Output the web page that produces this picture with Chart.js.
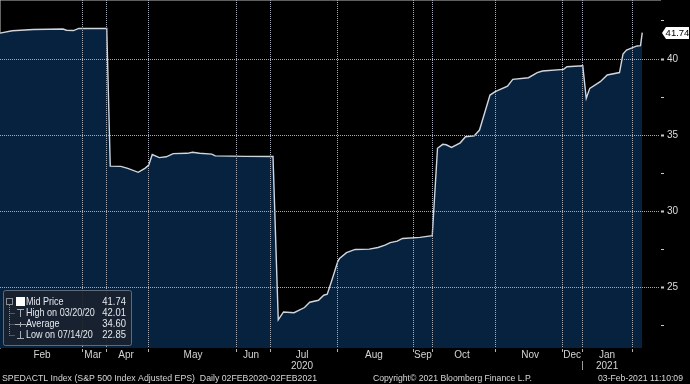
<!DOCTYPE html>
<html><head><meta charset="utf-8">
<script src="https://cdn.jsdelivr.net/npm/chart.js@4/dist/chart.umd.min.js"></script>
<style>html,body{margin:0;padding:0;background:#000;overflow:hidden}#wrap{width:690px;height:384px}</style>
</head><body><div id="wrap"><canvas id="c" width="690" height="384"></canvas></div>
<script>
// Days since 2020-02-01
const days = [0,7,19,36,38,42,45,61,63,69,73,79,83,85,87,91,95,99,107,110,114,121,123,140,156,159,162,168,174,177,182,185,187,190,193,194,198,203,211,216,220,223,227,230,240,247,250,253,255,258,263,266,271,274,280,283,290,293,302,307,310,322,324,333,335,337,343,347,354,356,358,364,366,367];
const values = [41.70,41.86,41.94,41.97,41.89,41.87,42.01,42.01,32.96,32.94,32.81,32.55,32.83,33.03,33.72,33.52,33.57,33.78,33.80,33.87,33.80,33.75,33.63,33.60,33.59,22.85,23.37,23.32,23.66,24.01,24.14,24.47,24.54,25.59,26.68,26.88,27.27,27.48,27.50,27.61,27.76,27.93,28.03,28.20,28.27,28.38,34.13,34.39,34.36,34.19,34.49,34.89,34.95,35.33,37.63,37.85,38.22,38.66,38.77,39.10,39.21,39.32,39.49,39.55,37.41,38.07,38.51,38.95,39.11,40.33,40.59,40.86,40.88,41.74];
const gridDays = [46.9,60.6,85.1,134.9,154.3,192.6,236,247.4,282.9,321.7,332.6,361.7];
const monthTickDays = [24,53.1,72,110.3,143.4,172.6,213.7,241.7,264,302.9,326.9,346.9];
const monthLabels = [['Feb'],['Mar'],['Apr'],['May'],['Jun'],['Jul','2020'],['Aug'],['Sep'],['Oct'],['Nov'],['Dec'],['Jan','2021']];
const yearSeparatorDay = 332.6;
const yTicks = [22.5,25,27.5,30,32.5,35,37.5,40,42.5];
const yLabelled = [25,30,35,40];
const legendLabels = ['Mid Price','High on 03/20/20','Average','Low on 07/14/20'];
const legendValues = ['41.74','42.01','34.60','22.85'];
const lastValue = 41.74;
const footerLeft = 'SPEDACTL Index (S&P 500 Index Adjusted EPS)  Daily 02FEB2020-02FEB2021';
const footerMid = 'Copyright\u00A9 2021 Bloomberg Finance L.P.';
const footerRight = '03-Feb-2021 11:10:09';

const X_MAX = 377.14;
const FONT = 'Liberation Sans, Arial, sans-serif';
const GRID = 'rgba(165,172,184,1)';
const NONE = 'rgba(0,0,0,0)';

const xTickList = gridDays.map(v => ({value: v, kind: 'grid'}))
  .concat(monthTickDays.map((v, i) => ({value: v, kind: 'label', idx: i})))
  .sort((a, b) => a.value - b.value);

function fitText(ctx, text, x, y, w){
  const m = ctx.measureText(text).width;
  ctx.save();
  ctx.translate(x, y);
  ctx.scale(w / m, 1);
  ctx.textAlign = 'left';
  ctx.fillText(text, 0, 0);
  ctx.restore();
}
function squeezeText(ctx, text, x, y, k, align){
  const m = ctx.measureText(text).width * k;
  ctx.save();
  ctx.translate(align === 'right' ? x - m : x, y);
  ctx.scale(k, 1);
  ctx.textAlign = 'left';
  ctx.fillText(text, 0, 0);
  ctx.restore();
}

const overlay = {
  id: 'overlay',
  afterDraw(chart){
    const ctx = chart.ctx;
    const ys = chart.scales.y, xs = chart.scales.x;
    ctx.save();
    ctx.fillStyle = 'rgba(26,34,46,0.92)';
    ctx.strokeStyle = 'rgba(105,115,130,0.9)';
    ctx.lineWidth = 1;
    ctx.beginPath();
    ctx.roundRect(3.5, 290.5, 128, 55, 2);
    ctx.fill(); ctx.stroke();
    ctx.strokeStyle = '#8a8f96';
    ctx.setLineDash([1,1]);
    ctx.beginPath();
    ctx.moveTo(9.5, 305); ctx.lineTo(9.5, 335.5);
    [313.5, 324.5, 335.5].forEach(yy => { ctx.moveTo(9.5, yy); ctx.lineTo(15, yy); });
    ctx.stroke();
    ctx.setLineDash([]);
    ctx.strokeRect(6.5, 298.5, 6, 6);
    ctx.fillStyle = '#ffffff';
    ctx.fillRect(16, 297, 9, 9);
    ctx.strokeStyle = '#a8adb3';
    ctx.beginPath();
    ctx.moveTo(17, 309.5); ctx.lineTo(24, 309.5); ctx.moveTo(20.5, 309.5); ctx.lineTo(20.5, 317);
    ctx.moveTo(15, 324.5); ctx.lineTo(26, 324.5); ctx.moveTo(20.5, 322); ctx.lineTo(20.5, 327);
    ctx.moveTo(20.5, 331); ctx.lineTo(20.5, 338.5); ctx.moveTo(17, 338.5); ctx.lineTo(24, 338.5);
    ctx.stroke();
    ctx.font = '10.5px ' + FONT;
    ctx.fillStyle = '#e4e8ee';
    ctx.textBaseline = 'middle';
    const rowsY = [302, 313, 324, 335];
    legendLabels.forEach((t, i) => {
      squeezeText(ctx, t, 26, rowsY[i], 0.86, 'left');
      squeezeText(ctx, legendValues[i], 126, rowsY[i], 0.9, 'right');
    });
    const py = Math.round(ys.getPixelForValue(lastValue));
    ctx.fillStyle = '#ffffff';
    ctx.beginPath();
    ctx.moveTo(662, py);
    ctx.lineTo(666, py - 6);
    ctx.lineTo(689, py - 6);
    ctx.lineTo(689, py + 6);
    ctx.lineTo(666, py + 6);
    ctx.closePath();
    ctx.fill();
    ctx.fillStyle = '#000';
    ctx.textAlign = 'center';
    ctx.font = '9.5px ' + FONT;
    ctx.fillText(lastValue.toFixed(2), 677.5, py + 0.5);
    const sx = Math.round(xs.getPixelForValue(yearSeparatorDay)) + 0.5;
    ctx.strokeStyle = '#9a9a9a';
    ctx.beginPath(); ctx.moveTo(sx, 361); ctx.lineTo(sx, 370); ctx.stroke();
    ctx.fillStyle = '#d8d8d8';
    ctx.textBaseline = 'middle';
    ctx.font = '9.5px ' + FONT;
    fitText(ctx, footerLeft, 2, 378, 315);
    fitText(ctx, footerMid, 373, 378, 159);
    fitText(ctx, footerRight, 598, 378, 85);
    ctx.restore();
  }
};

new Chart(document.getElementById('c'), {
  type: 'line',
  data: {
    datasets: [{
      data: days.map((d, i) => ({x: d, y: values[i]})),
      borderColor: '#cfd6de',
      borderWidth: 1.4,
      backgroundColor: '#07223f',
      fill: 'start',
      pointRadius: 0,
      tension: 0
    }]
  },
  options: {
    responsive: false,
    animation: false,
    layout: {padding: 0},
    plugins: {legend: {display: false}, tooltip: {enabled: false}},
    scales: {
      x: {
        type: 'linear', position: 'bottom', min: 0, max: X_MAX,
        afterBuildTicks: s => { s.ticks = xTickList.map(t => ({value: t.value})); },
        afterFit: s => { s.height = 36; s.paddingLeft = 0; s.paddingRight = 0; },
        ticks: {
          autoSkip: false, maxRotation: 0, minRotation: 0, padding: -2.5,
          color: '#d4d4d4', font: {family: FONT, size: 10, lineHeight: 1.1},
          callback: (v, i) => xTickList[i].kind === 'label' ? monthLabels[xTickList[i].idx] : ''
        },
        grid: {
          display: true, drawOnChartArea: true, z: 1,
          color: c => (xTickList[c.index] && xTickList[c.index].kind === 'grid') ? GRID : NONE,
          tickColor: c => (xTickList[c.index] && xTickList[c.index].kind === 'grid') ? '#b4b4b4' : NONE,
          lineWidth: 1, drawTicks: true, tickLength: 4
        },
        border: {display: true, color: '#bdbdbd', width: 1, dash: [1, 1]}
      },
      y: {
        type: 'linear', position: 'right', min: 21, max: 43.88,
        afterBuildTicks: s => { s.ticks = yTicks.map(v => ({value: v})); },
        afterFit: s => { s.width = 30; s.paddingTop = 0; s.paddingBottom = 0; },
        ticks: {
          padding: 3, color: '#dcdcdc', font: {family: FONT, size: 10},
          callback: v => yLabelled.includes(v) ? String(v) : ''
        },
        grid: {
          display: true, drawOnChartArea: true, z: 1,
          color: c => (c.tick && yLabelled.includes(c.tick.value)) ? GRID : NONE,
          lineWidth: 1, drawTicks: true, tickLength: 4,
          tickColor: '#c8c8c8',
          tickWidth: c => (c.tick && yLabelled.includes(c.tick.value)) ? 2 : 1
        },
        border: {display: true, color: '#c8c8c8', width: 1, dash: [1, 1]}
      }
    }
  },
  plugins: [overlay]
});
</script>
</body></html>
